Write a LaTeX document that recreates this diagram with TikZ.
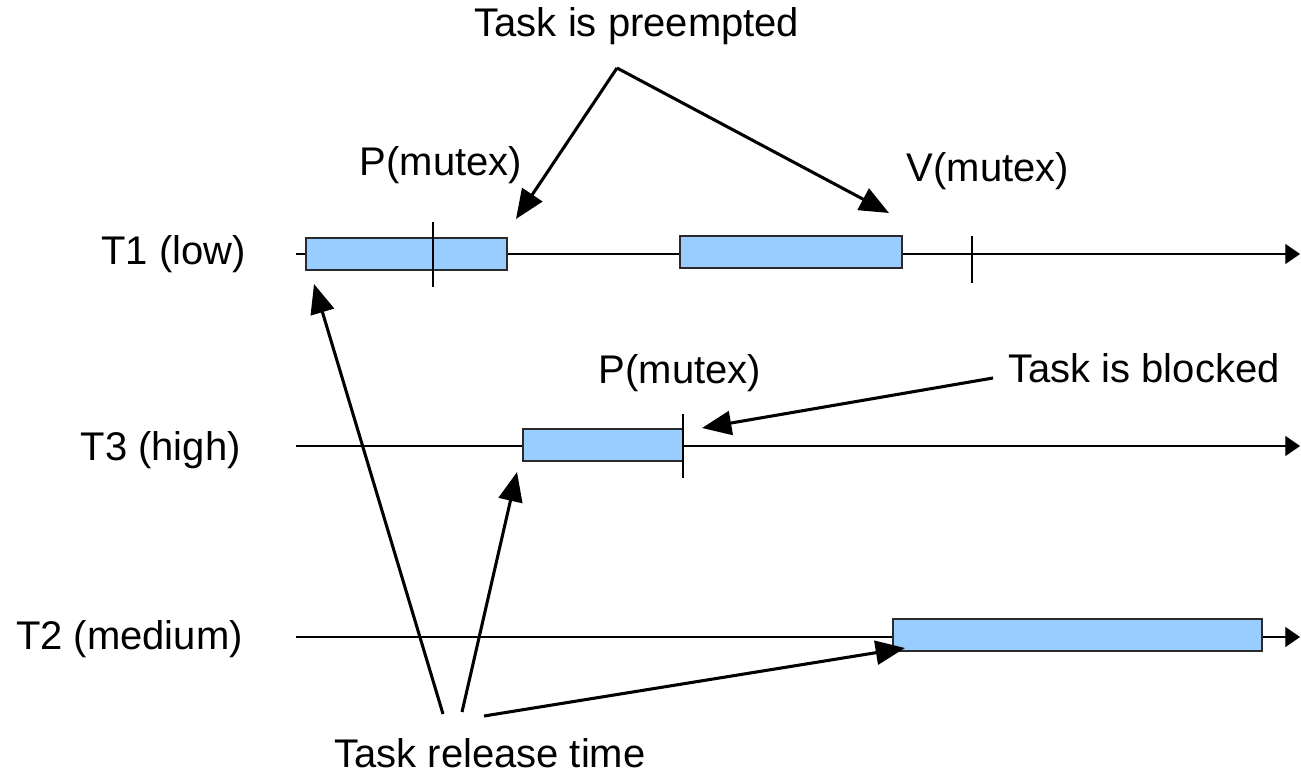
\documentclass[tikz,border=0pt]{standalone}
\usepackage{fontspec}
\setmainfont{Liberation Sans}
\usetikzlibrary{arrows.meta}
\definecolor{boxblue}{HTML}{99CCFF}
\definecolor{boxline}{HTML}{2A2A2A}
\begin{document}
\begin{tikzpicture}[x=0.75pt,y=-0.75pt,
  lbl/.style={font=\fontsize{30}{36}\selectfont, inner sep=0pt},
  taskbox/.style={draw=boxline, line width=0.9pt, fill=boxblue, inner sep=0pt, minimum height=24pt},
  timeline/.style={line width=0.8pt, -{Triangle[length=11pt,width=15pt]}},
  tick/.style={line width=0.8pt},
  pointer/.style={line width=2.3pt, -{Triangle[length=22pt,width=18pt]}}]
\useasboundingbox (0,0) rectangle (1301,777);
% timelines
\coordinate (l1s) at (296,254); \coordinate (l1e) at (1300,254);
\coordinate (l3s) at (296,446); \coordinate (l3e) at (1300,446);
\coordinate (l2s) at (296,637); \coordinate (l2e) at (1300,637);
\draw[timeline] (l1s) -- (l1e);
\draw[timeline] (l3s) -- (l3e);
\draw[timeline] (l2s) -- (l2e);
% row labels
\node[lbl, anchor=east] (t1) at (246,254) {T1 (low)};
\node[lbl, anchor=east] (t3) at (241,450) {T3 (high)};
\node[lbl, anchor=east] (t2) at (243,639) {T2 (medium)};
% boxes
\node[taskbox, minimum width=150.75pt] (b1) at (406.5,254) {};
\node[taskbox, minimum width=166.5pt] (b2) at (791,252) {};
\node[taskbox, minimum width=120pt] (b3) at (603,445) {};
\node[taskbox, minimum width=276.75pt] (b4) at (1077.5,635) {};
% ticks
\coordinate (k1a) at (433,222); \coordinate (k1b) at (433,287);
\coordinate (k2a) at (972,236); \coordinate (k2b) at (972,283);
\coordinate (k3a) at (683,414); \coordinate (k3b) at (683,478);
\draw[tick] (k1a) -- (k1b);
\draw[tick] (k2a) -- (k2b);
\draw[tick] (k3a) -- (k3b);
% text labels
\node[lbl] (pre) at (637,26) {Task is preempted};
\node[lbl] (pm1) at (441,165) {P(mutex)};
\node[lbl] (vm) at (988,171) {V(mutex)};
\node[lbl] (pm3) at (680,373) {P(mutex)};
\node[lbl] (blk) at (1144,368) {Task is blocked};
\node[lbl] (rel) at (490,753) {Task release time};
% pointer arrows
\coordinate (pa) at (617,68);
\coordinate (pa1) at (516,219);
\coordinate (pa2) at (889,213);
\draw[pointer] (pa) -- (pa1);
\draw[pointer] (pa) -- (pa2);
\coordinate (ba) at (993,378);
\coordinate (ba1) at (702,428);
\draw[pointer] (ba) -- (ba1);
\coordinate (r1) at (443,714); \coordinate (r1e) at (314,284);
\coordinate (r2) at (462,712); \coordinate (r2e) at (517,472);
\coordinate (r3) at (484,716); \coordinate (r3e) at (905,648);
\draw[pointer] (r1) -- (r1e);
\draw[pointer] (r2) -- (r2e);
\draw[pointer] (r3) -- (r3e);
\end{tikzpicture}
\end{document}
